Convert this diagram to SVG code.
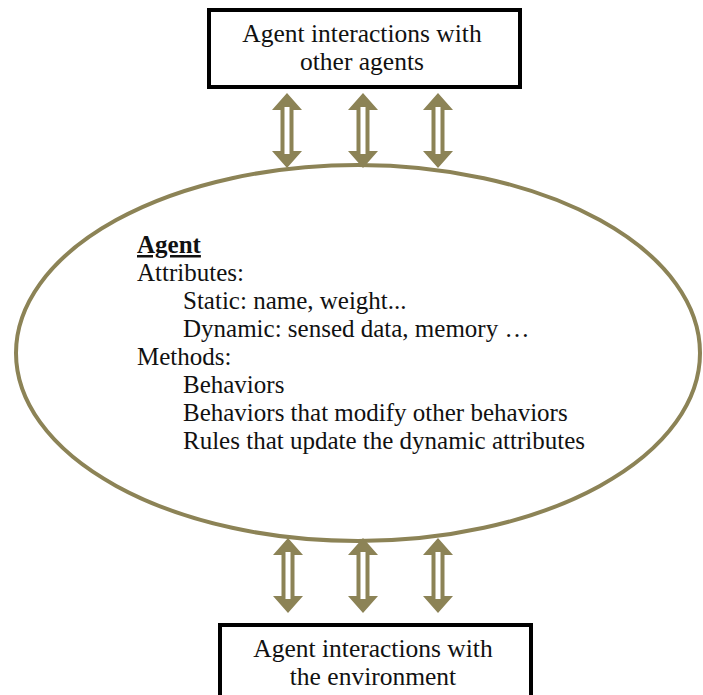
<svg xmlns="http://www.w3.org/2000/svg" width="703" height="695" viewBox="0 0 703 695">
  <defs>
    <style>
      .box { fill: #ffffff; stroke: #000000; stroke-width: 4; }
      .lbl { font-family: 'Liberation Serif', 'Times New Roman', serif; font-size: 25px; fill: #111111; }
      .big { font-size: 25.5px; }
      .mid { text-anchor: middle; }
      .oval { fill: #ffffff; stroke: #8c8356; stroke-width: 4; }
      .arr { fill: #8c8356; }
      .core { fill: #ffffff; }
    </style>
    <!-- double-headed hollow arrow, centred on x=0, tip-to-tip 75px -->
    <g id="dbl">
      <polygon class="arr" points="0,0 15,17 6.5,17 6.5,58 15,58 0,75 -15,58 -6.5,58 -6.5,17 -15,17"/>
      <rect class="core" x="-2.5" y="14" width="5" height="47"/>
    </g>
  </defs>
  <rect width="703" height="695" fill="#ffffff"/>

  <g id="agent">
    <ellipse class="oval" cx="358" cy="353" rx="342" ry="188"/>
    <text class="lbl" x="137" y="253" font-weight="bold" text-decoration="underline">Agent</text>
    <text class="lbl" x="137" y="281">Attributes:</text>
    <text class="lbl" x="183" y="309">Static: name, weight...</text>
    <text class="lbl" x="183" y="337">Dynamic: sensed data, memory …</text>
    <text class="lbl" x="137" y="365">Methods:</text>
    <text class="lbl" x="183" y="393">Behaviors</text>
    <text class="lbl" x="183" y="421">Behaviors that modify other behaviors</text>
    <text class="lbl" x="183" y="449">Rules that update the dynamic attributes</text>
  </g>

  <g id="others">
    <rect class="box" x="209" y="10" width="311" height="77"/>
    <text class="lbl big mid" x="362" y="42">Agent interactions with</text>
    <text class="lbl big mid" x="362" y="70">other agents</text>
  </g>

  <g id="environment">
    <rect class="box" x="220" y="625" width="311" height="80"/>
    <text class="lbl big mid" x="373" y="657">Agent interactions with</text>
    <text class="lbl big mid" x="373" y="685">the environment</text>
  </g>

  <g id="connectors">
    <use href="#dbl" x="287" y="93"/>
    <use href="#dbl" x="363" y="93"/>
    <use href="#dbl" x="438" y="93"/>
    <use href="#dbl" x="288" y="538"/>
    <use href="#dbl" x="363" y="538"/>
    <use href="#dbl" x="438" y="538"/>
  </g>
</svg>
